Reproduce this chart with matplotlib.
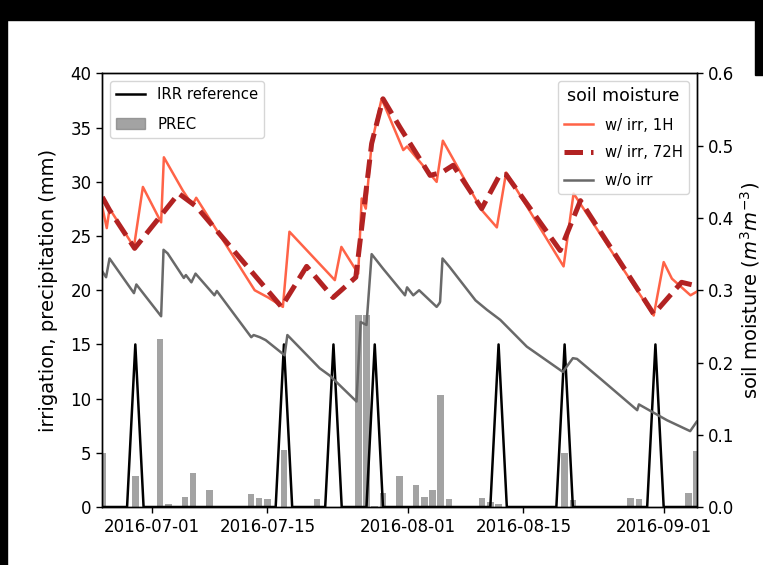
import matplotlib
matplotlib.use('Agg')
import matplotlib.pyplot as plt
import matplotlib.dates as mdates
from matplotlib.lines import Line2D
from matplotlib.patches import Patch, Rectangle
import numpy as np
import pandas as pd

# daily irrigation events (mm) used as reference
irr_dates = ['2016-06-29', '2016-07-17', '2016-07-23', '2016-07-28',
             '2016-08-12', '2016-08-20', '2016-08-31']
irr_vals = [15, 15, 15, 15, 15, 15, 15]

# daily precipitation (mm)
prec_dates = ['2016-06-25', '2016-06-29', '2016-07-02', '2016-07-03', '2016-07-05',
              '2016-07-06', '2016-07-08', '2016-07-13', '2016-07-14', '2016-07-15',
              '2016-07-17', '2016-07-21', '2016-07-26', '2016-07-27', '2016-07-28',
              '2016-07-29', '2016-07-31', '2016-08-02', '2016-08-03', '2016-08-04',
              '2016-08-05', '2016-08-06', '2016-08-10', '2016-08-11', '2016-08-12',
              '2016-08-20', '2016-08-21', '2016-08-28', '2016-08-29', '2016-09-04',
              '2016-09-05']
prec_vals = [5.0, 2.9, 15.5, 0.25, 0.9,
             3.1, 1.6, 1.2, 0.8, 0.7,
             5.3, 0.7, 17.7, 17.7, 0.1,
             1.3, 2.9, 2.0, 0.9, 1.6,
             10.3, 0.7, 0.8, 0.5, 0.3,
             5.0, 0.65, 0.8, 0.7, 1.3,
             5.2]

# soil moisture, w/ irr 1H (breakpoints)
sm1h_t = ['2016-06-25 00:00', '2016-06-25 13:00', '2016-06-25 21:00', '2016-06-28 20:00',
          '2016-06-29 22:00', '2016-07-02 03:00', '2016-07-02 11:00', '2016-07-04 18:00',
          '2016-07-05 22:00', '2016-07-06 09:00', '2016-07-13 11:00', '2016-07-15 02:00',
          '2016-07-16 21:00', '2016-07-17 16:00', '2016-07-23 04:00', '2016-07-23 23:00',
          '2016-07-26 00:00', '2016-07-26 10:00', '2016-07-26 22:00', '2016-07-27 15:00',
          '2016-07-28 20:00', '2016-07-31 11:00', '2016-07-31 22:00', '2016-08-04 12:00',
          '2016-08-05 06:00', '2016-08-09 23:00', '2016-08-11 19:00', '2016-08-12 22:00',
          '2016-08-19 21:00', '2016-08-21 02:00', '2016-08-30 19:00', '2016-09-01 00:00',
          '2016-09-02 00:00', '2016-09-04 06:00', '2016-09-05 00:00']
sm1h_v = [0.415, 0.386, 0.413, 0.360,
          0.443, 0.394, 0.484, 0.438,
          0.418, 0.428, 0.300, 0.290,
          0.277, 0.381, 0.314, 0.360,
          0.323, 0.427, 0.413, 0.503,
          0.565, 0.494, 0.499, 0.450,
          0.507, 0.411, 0.387, 0.463,
          0.333, 0.434, 0.265, 0.339,
          0.316, 0.293, 0.298]

# soil moisture, w/ irr 72H
sm72_t = ['2016-06-25 00:00', '2016-06-25 21:00', '2016-06-28 22:00', '2016-07-04 06:00',
          '2016-07-06 09:00', '2016-07-16 17:00', '2016-07-19 18:00', '2016-07-22 23:00',
          '2016-07-25 17:00', '2016-07-27 15:00', '2016-07-29 00:00', '2016-07-31 02:00',
          '2016-08-03 17:00', '2016-08-05 03:00', '2016-08-06 12:00', '2016-08-09 23:00',
          '2016-08-12 05:00', '2016-08-12 22:00', '2016-08-19 11:00', '2016-08-21 22:00',
          '2016-08-30 19:00', '2016-09-03 04:00', '2016-09-05 00:00']
sm72_v = [0.429, 0.411, 0.358, 0.434,
          0.416, 0.277, 0.333, 0.290,
          0.318, 0.503, 0.565, 0.525,
          0.459, 0.463, 0.473, 0.413,
          0.461, 0.460, 0.355, 0.424,
          0.267, 0.311, 0.306]

# soil moisture, w/o irr
sm0_t = ['2016-06-25 00:00', '2016-06-25 11:00', '2016-06-25 21:00', '2016-06-28 20:00',
         '2016-06-29 03:00', '2016-07-02 03:00', '2016-07-02 10:00', '2016-07-02 22:00',
         '2016-07-04 21:00', '2016-07-05 03:00', '2016-07-05 19:00', '2016-07-06 07:00',
         '2016-07-08 14:00', '2016-07-08 21:00', '2016-07-13 01:00', '2016-07-13 08:00',
         '2016-07-14 02:00', '2016-07-14 19:00', '2016-07-17 02:00', '2016-07-17 10:00',
         '2016-07-21 08:00', '2016-07-22 13:00', '2016-07-25 19:00', '2016-07-26 07:00',
         '2016-07-27 00:00', '2016-07-27 15:00', '2016-07-29 00:00', '2016-07-31 16:00',
         '2016-07-31 22:00', '2016-08-01 16:00', '2016-08-02 09:00', '2016-08-04 12:00',
         '2016-08-04 20:00', '2016-08-04 22:00', '2016-08-05 05:00', '2016-08-06 02:00',
         '2016-08-09 05:00', '2016-08-10 14:00', '2016-08-12 05:00', '2016-08-15 10:00',
         '2016-08-19 19:00', '2016-08-21 00:00', '2016-08-21 12:00', '2016-08-24 07:00',
         '2016-08-28 19:00', '2016-08-29 00:00', '2016-09-01 10:00', '2016-09-04 05:00',
         '2016-09-05 00:00']
sm0_v = [0.326, 0.318, 0.344, 0.296,
         0.308, 0.264, 0.356, 0.351,
         0.317, 0.321, 0.311, 0.323,
         0.293, 0.299, 0.235, 0.238,
         0.235, 0.231, 0.210, 0.238,
         0.192, 0.182, 0.146, 0.256,
         0.252, 0.350, 0.330, 0.293,
         0.304, 0.293, 0.300, 0.277,
         0.282, 0.284, 0.344, 0.332,
         0.286, 0.273, 0.259, 0.222,
         0.187, 0.206, 0.205, 0.178,
         0.134, 0.142, 0.120, 0.105,
         0.118]

fig = plt.figure(figsize=(7.63, 5.65), dpi=100)
fig.patch.set_facecolor('white')
# black frame of the screenshot (top band, left edge, short piece at top right)
fig.patches.append(Rectangle((0, 1 - 20 / 565), 1, 20 / 565, transform=fig.transFigure,
                             color='black', zorder=-1))
fig.patches.append(Rectangle((0, 0), 7 / 763, 1, transform=fig.transFigure,
                             color='black', zorder=-1))
fig.patches.append(Rectangle((1 - 8 / 763, 1 - 75 / 565), 8 / 763, 75 / 565,
                             transform=fig.transFigure, color='black', zorder=-1))

ax = fig.add_axes([102.3 / 763, 58 / 565, 594.4 / 763, 433.5 / 565])

# irrigation reference as a daily series
days = pd.date_range('2016-06-25', '2016-09-05', freq='D')
irr = pd.Series(0.0, index=days)
irr[pd.to_datetime(irr_dates)] = irr_vals

px = mdates.date2num(pd.to_datetime(prec_dates))
ax.bar(px, prec_vals, width=0.8, color='gray', alpha=0.72, label='PREC')
ax.plot(mdates.date2num(irr.index), irr.values, color='black', lw=1.8,
        label='IRR reference')
ax.set_ylim(0, 40)
ax.set_ylabel('irrigation, precipitation (mm)', fontsize=14, labelpad=9)

ax2 = ax.twinx()
l1, = ax2.plot(mdates.date2num(pd.to_datetime(sm1h_t)), sm1h_v, color='tomato', lw=1.8)
l2, = ax2.plot(mdates.date2num(pd.to_datetime(sm72_t)), sm72_v, color='firebrick',
               lw=3.6, ls='--')
l3, = ax2.plot(mdates.date2num(pd.to_datetime(sm0_t)), sm0_v, color='dimgray', lw=1.8)
ax2.set_ylim(0, 0.6)
ax2.set_ylabel('soil moisture ($m^3m^{-3}$)', fontsize=14, labelpad=3)

ax.set_xlim(mdates.date2num(pd.Timestamp('2016-06-25')),
            mdates.date2num(pd.Timestamp('2016-09-05')))
ax.xaxis_date()
ticks = pd.to_datetime(['2016-07-01', '2016-07-15', '2016-08-01', '2016-08-15', '2016-09-01'])
ax.set_xticks(mdates.date2num(ticks))
ax.xaxis.set_major_formatter(mdates.DateFormatter('%Y-%m-%d'))

for a in (ax, ax2):
    a.tick_params(labelsize=12, length=4.2, width=1)
    for s in a.spines.values():
        s.set_linewidth(1)

h1 = [Line2D([], [], color='black', lw=1.8), Patch(color='gray', alpha=0.72)]
leg1 = ax2.legend(h1, ['IRR reference', 'PREC'], loc='upper left', fontsize=10.7,
                  labelspacing=1.0)
ax2.add_artist(leg1)
ax2.legend([l1, l2, l3], ['w/ irr, 1H', 'w/ irr, 72H', 'w/o irr'], loc='upper right',
           fontsize=10.7, title='soil moisture', title_fontsize=12.5, labelspacing=0.85)

fig.savefig('out.png', dpi=100)
